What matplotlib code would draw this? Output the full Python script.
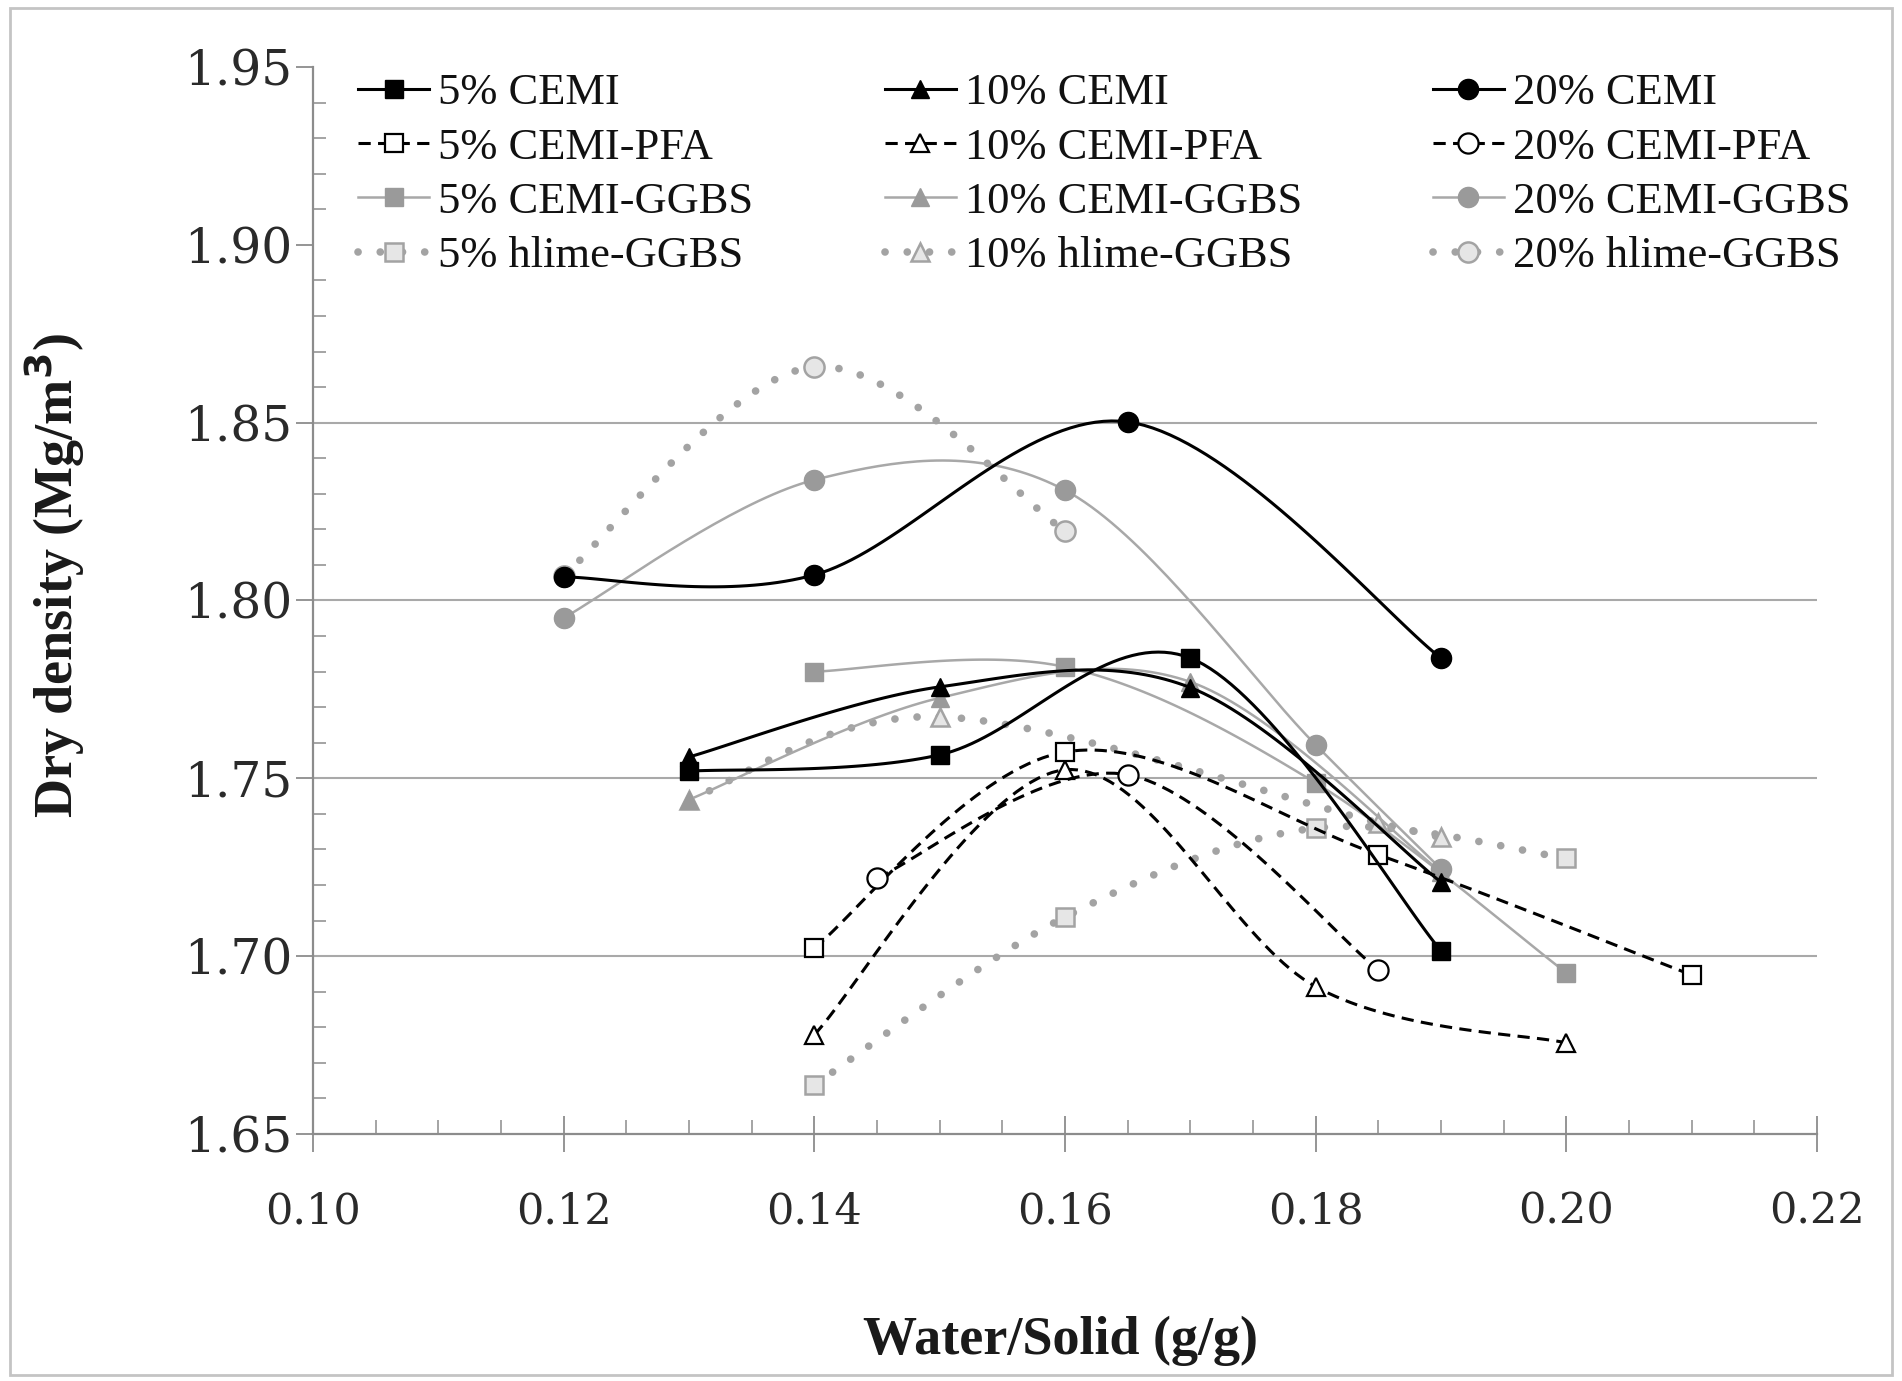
import numpy as np
import matplotlib
matplotlib.use("Agg")
import matplotlib.pyplot as plt
from matplotlib.ticker import MultipleLocator, FormatStrFormatter
from matplotlib.patches import Rectangle

# ---- compaction data: water/solid ratio (g/g) vs dry density (Mg/m3) ----
ws_5_cemi = [0.13, 0.15, 0.17, 0.19]
dd_5_cemi = [1.752, 1.7566, 1.7838, 1.7015]
ws_10_cemi = [0.13, 0.15, 0.17, 0.19]
dd_10_cemi = [1.756, 1.7757, 1.7755, 1.7208]
ws_20_cemi = [0.12, 0.14, 0.165, 0.19]
dd_20_cemi = [1.8066, 1.8072, 1.8502, 1.7838]

ws_5_pfa = [0.14, 0.16, 0.185, 0.21]
dd_5_pfa = [1.7023, 1.7574, 1.7285, 1.6947]
ws_10_pfa = [0.14, 0.16, 0.18, 0.20]
dd_10_pfa = [1.6779, 1.7524, 1.6914, 1.6756]
ws_20_pfa = [0.145, 0.165, 0.185]
dd_20_pfa = [1.7220, 1.7510, 1.6961]

ws_5_ggbs = [0.14, 0.16, 0.18, 0.20]
dd_5_ggbs = [1.780, 1.7813, 1.7487, 1.6953]
ws_10_ggbs = [0.13, 0.15, 0.17, 0.19]
dd_10_ggbs = [1.744, 1.7726, 1.7771, 1.7237]
ws_20_ggbs = [0.12, 0.14, 0.16, 0.18, 0.19]
dd_20_ggbs = [1.7951, 1.8339, 1.8310, 1.7594, 1.7245]

ws_5_hlime = [0.14, 0.16, 0.18, 0.20]
dd_5_hlime = [1.6638, 1.7110, 1.7360, 1.7276]
ws_10_hlime = [0.13, 0.15, 0.185, 0.19]
dd_10_hlime = [1.744, 1.7673, 1.7375, 1.7335]
ws_20_hlime = [0.12, 0.14, 0.16]
dd_20_hlime = [1.807, 1.8657, 1.8195]

labels = ["5% CEMI", "5% CEMI-PFA", "5% CEMI-GGBS", "5% hlime-GGBS",
          "10% CEMI", "10% CEMI-PFA", "10% CEMI-GGBS", "10% hlime-GGBS",
          "20% CEMI", "20% CEMI-PFA", "20% CEMI-GGBS", "20% hlime-GGBS"]

x_ticks = [0.10, 0.12, 0.14, 0.16, 0.18, 0.20, 0.22]
y_ticks = [1.65, 1.70, 1.75, 1.80, 1.85, 1.90, 1.95]


def smooth_curve(xs, ys, n=40):
    """Piecewise cubic Bezier through the points (spreadsheet-style smoothing)."""
    pts = np.column_stack([xs, ys]).astype(float)
    P = np.vstack([pts[0], pts, pts[-1]])
    t = np.linspace(0.0, 1.0, n)[:, None]
    segs = []
    for i in range(1, len(P) - 2):
        p0, p1, p2, p3 = P[i - 1], P[i], P[i + 1], P[i + 2]
        c1 = p1 + (p2 - p0) / 6.0
        c2 = p2 - (p3 - p1) / 6.0
        seg = (1 - t) ** 3 * p1 + 3 * (1 - t) ** 2 * t * c1 + 3 * (1 - t) * t ** 2 * c2 + t ** 3 * p2
        segs.append(seg if i == 1 else seg[1:])
    curve = np.vstack(segs)
    marks = [k * (n - 1) for k in range(len(xs))]
    return curve[:, 0], curve[:, 1], marks


BLACK = "#000000"
GREY_LINE = "#a8a8a8"
GREY_MARK = "#9a9a9a"
GREY_DOT = "#a3a3a3"

styles = {
    "cemi": dict(color=BLACK, lw=2.2, linestyle="-"),
    "pfa": dict(color=BLACK, lw=2.2, linestyle=(0, (4.0, 2.4))),
    "ggbs": dict(color=GREY_LINE, lw=1.8, linestyle="-"),
    "hlime": dict(color=GREY_DOT, lw=5.5, linestyle=(0, (0.01, 2.9)), dash_capstyle="round"),
}

marker_shapes = {"5": "s", "10": "^", "20": "o"}
marker_sizes = {"5": 13.5, "10": 13.5, "20": 14.5}


def marker_style(kind, pct):
    m = dict(marker=marker_shapes[pct], markersize=marker_sizes[pct])
    if kind == "cemi":
        m.update(markerfacecolor=BLACK, markeredgecolor=BLACK, markeredgewidth=1.0)
    elif kind == "pfa":
        m.update(markerfacecolor="white", markeredgecolor=BLACK, markeredgewidth=1.6)
    elif kind == "ggbs":
        m.update(markerfacecolor=GREY_MARK, markeredgecolor=GREY_MARK, markeredgewidth=1.0)
    else:
        m.update(markerfacecolor="#e6e6e6", markeredgecolor=GREY_DOT, markeredgewidth=1.8)
    return m


series = [
    ("cemi", "5", ws_5_cemi, dd_5_cemi),
    ("pfa", "5", ws_5_pfa, dd_5_pfa),
    ("ggbs", "5", ws_5_ggbs, dd_5_ggbs),
    ("hlime", "5", ws_5_hlime, dd_5_hlime),
    ("cemi", "10", ws_10_cemi, dd_10_cemi),
    ("pfa", "10", ws_10_pfa, dd_10_pfa),
    ("ggbs", "10", ws_10_ggbs, dd_10_ggbs),
    ("hlime", "10", ws_10_hlime, dd_10_hlime),
    ("cemi", "20", ws_20_cemi, dd_20_cemi),
    ("pfa", "20", ws_20_pfa, dd_20_pfa),
    ("ggbs", "20", ws_20_ggbs, dd_20_ggbs),
    ("hlime", "20", ws_20_hlime, dd_20_hlime),
]

fig = plt.figure(figsize=(19.02, 13.81), dpi=100)
ax = fig.add_axes([0.1646, 0.1789, 0.7907, 0.7726])

# draw order: lime blends underneath, plain cement on top
draw_order = [3, 7, 11, 2, 6, 10, 1, 5, 9, 0, 4, 8]
handles = [None] * len(series)
for idx in draw_order:
    kind, pct, xs, ys = series[idx]
    cx, cy, marks = smooth_curve(xs, ys)
    line, = ax.plot(cx, cy, markevery=marks, label=labels[idx],
                    **styles[kind], **marker_style(kind, pct))
    handles[idx] = line

ax.set_xlim(0.10, 0.22)
ax.set_ylim(1.65, 1.95)
ax.set_xticks(x_ticks)
ax.set_yticks(y_ticks)
ax.xaxis.set_major_formatter(FormatStrFormatter("%.2f"))
ax.yaxis.set_major_formatter(FormatStrFormatter("%.2f"))
ax.xaxis.set_minor_locator(MultipleLocator(0.005))
ax.yaxis.set_minor_locator(MultipleLocator(0.01))

AXIS_GREY = "#8c8c8c"
for side in ("top", "right"):
    ax.spines[side].set_visible(False)
for side in ("left", "bottom"):
    ax.spines[side].set_color(AXIS_GREY)
    ax.spines[side].set_linewidth(1.6)

ax.tick_params(axis="x", which="major", direction="inout", length=26, width=1.3,
               color=AXIS_GREY, pad=28, labelsize=31, labelcolor="#2a2a2a")
ax.tick_params(axis="x", which="minor", direction="in", length=10, width=1.1, color=AXIS_GREY)
ax.tick_params(axis="y", which="major", direction="out", length=12, width=1.3,
               color=AXIS_GREY, pad=3, labelsize=35, labelcolor="#2a2a2a")
ax.tick_params(axis="y", which="minor", direction="in", length=9, width=1.1, color=AXIS_GREY)
for lab in ax.get_xticklabels() + ax.get_yticklabels():
    lab.set_fontfamily("DejaVu Serif")

ax.yaxis.grid(True, which="major", color="#a9a9a9", linewidth=1.5)
ax.set_axisbelow(True)
for val, gl in zip(ax.get_yticks(), ax.get_ygridlines()):
    gl.set_visible(1.66 < val < 1.88)

ax.set_xlabel("Water/Solid (g/g)", fontfamily="Liberation Serif", fontweight="bold",
              fontsize=39, color="#1a1a1a")
ax.xaxis.set_label_coords(0.4967, -0.170)
fig.text(0.029, 0.583, "Dry density (Mg/m$^{\\mathbf{3}}$)", rotation=90,
         ha="center", va="center", fontfamily="Liberation Serif",
         fontweight="bold", fontsize=39, color="#1a1a1a")

leg = ax.legend(handles=handles, ncol=3, loc="upper left",
                bbox_to_anchor=(0.1884, 0.947), bbox_transform=fig.transFigure,
                frameon=False, borderpad=0, borderaxespad=0,
                prop=dict(family="Liberation Serif", size=32),
                handlelength=1.6, handletextpad=0.2, columnspacing=2.95,
                labelspacing=0.32, numpoints=1)
for txt in leg.get_texts():
    txt.set_color("#111111")

fig.patches.append(Rectangle((0.005, 0.004), 0.99, 0.99, transform=fig.transFigure,
                             fill=False, edgecolor="#c4c4c4", linewidth=2.0))

fig.savefig("out.png", dpi=100, facecolor="white")
